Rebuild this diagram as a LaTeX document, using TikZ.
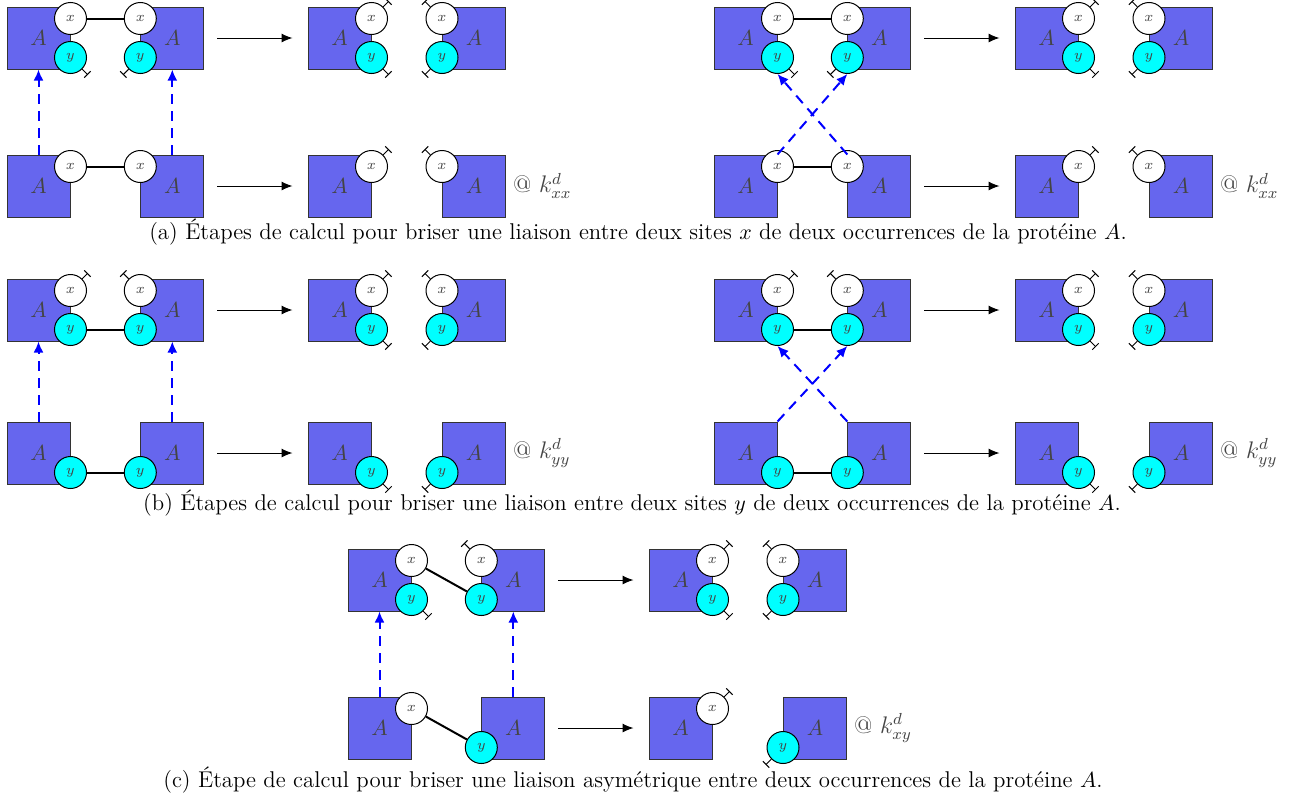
\documentclass[tikz,border=0pt]{standalone}
\usepackage{xcolor}
\usepackage{tikz}
\usetikzlibrary{arrows.meta,positioning}
\definecolor{ProtBlue}{HTML}{6666EE}
\definecolor{SiteCyan}{HTML}{00FFFF}
\definecolor{LabelGray}{HTML}{444444}

% where a site sits on the protein, and where its free end points
\def\posx{north}
\def\posy{south}
\def\angxeast{45}
\def\angyeast{-45}
\def\angxwest{135}
\def\angywest{-135}

% name, centre, side of the sites, sites
\newcommand{\protein}[4]{%
  \node[prot] (#1) at (#2) {$A$};
  \foreach \s in {#4}{%
    \edef\anc{\csname pos\s\endcsname\space #3}%
    \node[site\s] (#1\s) at (#1.\anc) {$\s$};}}
% name, side, free sites
\newcommand{\freesites}[3]{%
  \foreach \s in {#3}{%
    \edef\ang{\csname ang\s#2\endcsname}%
    \draw[free] (#1\s.\ang) -- ++(\ang:4pt);}}

\begin{document}
\begin{tikzpicture}[
  x=0.5pt, y=-0.5pt,
  prot/.style={rectangle, draw=black!80, fill=ProtBlue, line width=0.5pt, minimum width=31.5pt, minimum height=31pt, inner sep=0pt, text=LabelGray, font=\fontsize{11}{13}\selectfont},
  site/.style={circle, draw=black, line width=0.5pt, minimum size=16pt, inner sep=0pt, font=\scriptsize, text=LabelGray},
  sitex/.style={site, fill=white, yshift=-6pt},
  sitey/.style={site, fill=SiteCyan, yshift=6pt},
  bond/.style={line width=1pt},
  free/.style={-{Bar[width=4.5pt]}, line width=0.5pt},
  rxn/.style={-{Latex[length=5.5pt,width=4.5pt]}, line width=0.5pt, shorten <=6.5pt, shorten >=7.5pt},
  brk/.style={-{Latex[length=5.5pt,width=5pt]}, blue, line width=1pt, dash pattern=on 5pt off 3.5pt},
  rate/.style={text=LabelGray, font=\large},
  caption/.style={align=center, font=\fontsize{11.4}{13.7}\selectfont}
]
\useasboundingbox (0,0) rectangle (1289,798);

% upper rows: both sites on every protein
\foreach \g/\dx/\yc in {a1/0/38, a2/707/38, b1/0/310, b2/707/310, c1/341/580}{
  \protein{\g L}{\dx+38.5,\yc}{east}{x,y}
  \protein{\g R}{\dx+172.3,\yc}{west}{x,y}
  \protein{\g P}{\dx+339.5,\yc}{east}{x,y}
  \protein{\g Q}{\dx+474,\yc}{west}{x,y}
  \freesites{\g P}{east}{x,y}
  \freesites{\g Q}{west}{x,y}
  \draw[rxn] (\g R) -- (\g P);
}
\foreach \g in {a1,a2}{
  \draw[bond] (\g Lx) -- (\g Rx);
  \freesites{\g L}{east}{y}
  \freesites{\g R}{west}{y}
}
\foreach \g in {b1,b2}{
  \draw[bond] (\g Ly) -- (\g Ry);
  \freesites{\g L}{east}{x}
  \freesites{\g R}{west}{x}
}
\draw[bond] (c1Lx) -- (c1Ry);
\freesites{c1L}{east}{y}
\freesites{c1R}{west}{x}

% lower rows: one site per protein
\foreach \g/\dx/\yc/\st in {a3/0/186/x, a4/707/186/x, b3/0/453/y, b4/707/453/y}{
  \protein{\g L}{\dx+38.5,\yc}{east}{\st}
  \protein{\g R}{\dx+172.3,\yc}{west}{\st}
  \protein{\g P}{\dx+339.5,\yc}{east}{\st}
  \protein{\g Q}{\dx+474,\yc}{west}{\st}
  \freesites{\g P}{east}{\st}
  \freesites{\g Q}{west}{\st}
  \draw[bond] (\g L\st) -- (\g R\st);
  \draw[rxn] (\g R) -- (\g P);
  \node[rate, right=0pt of \g Q] (\g k) {@ $k^d_{\st\st}$};
}
\protein{c2L}{379.5,728}{east}{x}
\protein{c2R}{513.3,728}{west}{y}
\protein{c2P}{680.5,728}{east}{x}
\protein{c2Q}{815,728}{west}{y}
\freesites{c2P}{east}{x}
\freesites{c2Q}{west}{y}
\draw[bond] (c2Lx) -- (c2Ry);
\draw[rxn] (c2R) -- (c2P);
\node[rate, right=0pt of c2Q] (c2k) {@ $k^d_{xy}$};

% breaking steps
\foreach \up/\dn in {a1/a3, b1/b3, c1/c2}{
  \draw[brk] (\dn L.north) -- (\up L.south);
  \draw[brk] (\dn R.north) -- (\up R.south);
}
\foreach \up/\dn in {a2/a4, b2/b4}{
  \draw[brk] (\dn L.north east) -- (\up Ry.south);
  \draw[brk] (\dn R.north west) -- (\up Ly.south);
}

\node[caption] (capa) at (638,232) {(a) Étapes de calcul pour briser une liaison entre deux sites $x$ de deux occurrences de la protéine $A$.};
\node[caption] (capb) at (632,503) {(b) Étapes de calcul pour briser une liaison entre deux sites $y$ de deux occurrences de la protéine $A$.};
\node[caption] (capc) at (633,780) {(c) Étape de calcul pour briser une liaison asymétrique entre deux occurrences de la protéine $A$.};
\end{tikzpicture}
\end{document}
